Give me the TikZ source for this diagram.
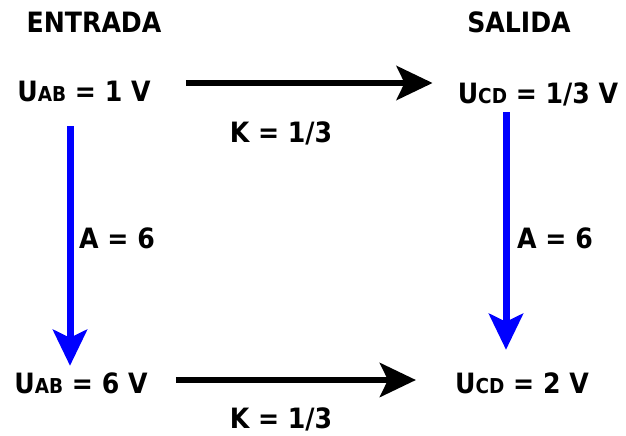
\documentclass[tikz,border=0pt]{standalone}
\usepackage{fontspec}
\setmainfont{DejaVu Sans Condensed}
\usetikzlibrary{arrows.meta,positioning}

\newcommand{\smallidx}[1]{{\fontsize{20.5}{22}\selectfont #1}}

\begin{document}
\begin{tikzpicture}[x=1pt, y=-1pt, >={Stealth[length=36pt,width=34pt,inset=8pt]},
    font=\fontsize{28}{31}\selectfont\bfseries,
    every node/.style={inner sep=0pt, text height=20pt, text depth=0pt},
    flow/.style={line width=6pt, ->},
    gain/.style={flow, blue, line width=7pt}]
    \useasboundingbox (0,0) rectangle (626,436);
    % titulos
    \node (ent) at (94,23)  {ENTRADA};
    \node (sal) at (519,23) {SALIDA};
    % tensiones
    \node (uab1) at (84,91)  {U\smallidx{AB} = 1 V};
    \node (ucd1) at (538,93) {U\smallidx{CD} = 1/3 V};
    \node (uab6) at (81,383)  {U\smallidx{AB} = 6 V};
    \node (ucd2) at (522,383) {U\smallidx{CD} = 2 V};
    % factores
    \node (k1) at (281,132) {K = 1/3};
    \node (k2) at (281,418) {K = 1/3};
    \node (a1) at (117,238) {A = 6};
    \node (a2) at (555,238) {A = 6};
    % flechas
    \draw[flow] ([xshift=35pt,yshift=8pt]uab1.east) -- ([xshift=-25pt,yshift=10pt]ucd1.west);
    \draw[flow] ([xshift=28pt,yshift=3pt]uab6.east) -- ([xshift=-39pt,yshift=3pt]ucd2.west);
    \draw[gain] ([xshift=-14pt,yshift=-25pt]uab1.south) -- ([xshift=-11pt,yshift=7pt]uab6.north);
    \draw[gain] ([xshift=-32pt,yshift=-9pt]ucd1.south) -- ([xshift=-16pt,yshift=23pt]ucd2.north);
\end{tikzpicture}
\end{document}
